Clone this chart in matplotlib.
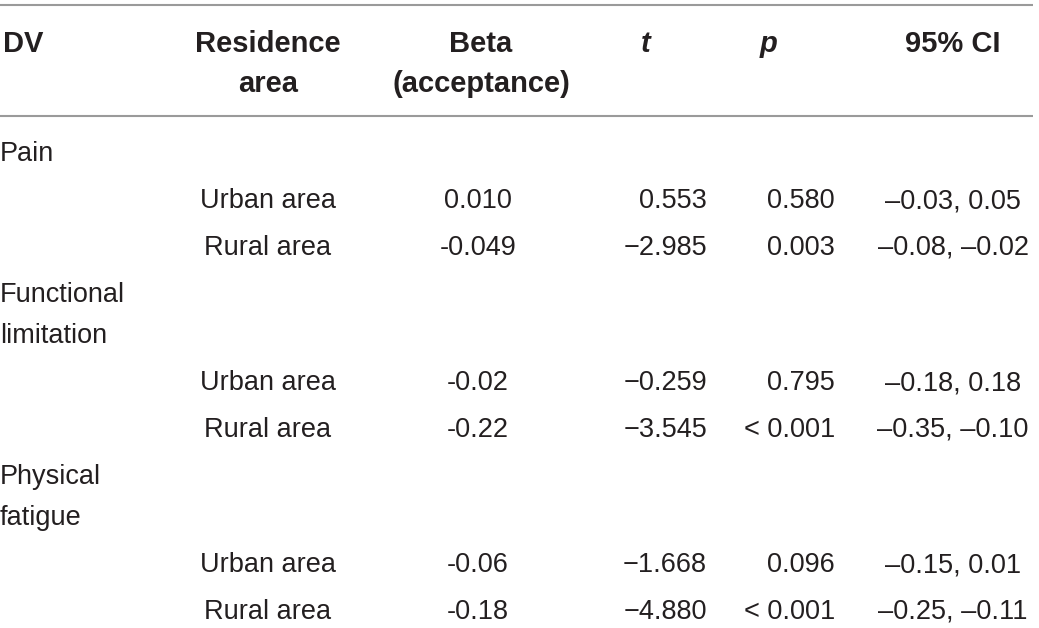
import matplotlib
matplotlib.use("Agg")
import matplotlib.pyplot as plt

# таблица: регрессия по месту проживания
dv_labels = [["Pain"], ["Functional", "limitation"], ["Physical", "fatigue"]]
areas = ["Urban area", "Rural area"]
beta = [["0.010", "-0.049"], ["-0.02", "-0.22"], ["-0.06", "-0.18"]]
t_vals = [["0.553", "\u22122.985"], ["\u22120.259", "\u22123.545"], ["\u22121.668", "\u22124.880"]]
p_vals = [["0.580", "0.003"], ["0.795", "< 0.001"], ["0.096", "< 0.001"]]
ci_vals = [["\u20130.03, 0.05", "\u20130.08, \u20130.02"],
           ["\u20130.18, 0.18", "\u20130.35, \u20130.10"],
           ["\u20130.15, 0.01", "\u20130.25, \u20130.11"]]

W, H = 1039, 628
fig = plt.figure(figsize=(W / 100, H / 100), dpi=100)
ax = fig.add_axes([0, 0, 1, 1])
ax.set_xlim(0, W)
ax.set_ylim(H, 0)
ax.axis("off")

plt.rcParams["font.family"] = ["Liberation Sans", "DejaVu Sans"]
fs = 19.5
fs_head = 21
col = "#231f20"
line_col = "#9a9a9a"

# колонки
x_dv = 0
x_area = 268
x_beta = 481
x_t = 707
x_p = 835
x_ci = 953

# линии
ax.plot([0, 1033], [5, 5], color=line_col, lw=1.5, solid_capstyle="butt")
ax.plot([0, 1033], [116, 116], color=line_col, lw=1.5, solid_capstyle="butt")

# заголовок
hb = 52
hb2 = 92
hk = dict(fontsize=fs_head, fontweight="bold", color=col, va="baseline")
ax.text(x_dv + 3, hb, "DV", ha="left", **hk)
ax.text(x_area, hb, "Residence", ha="center", **hk)
ax.text(x_area, hb2, "area", ha="center", **hk)
ax.text(x_beta, hb, "Beta", ha="center", **hk)
ax.text(x_beta, hb2, "(acceptance)", ha="center", **hk)
ax.text(646, hb, "t", ha="center", style="italic", **hk)
ax.text(769, hb, "p", ha="center", style="italic", **hk)
ax.text(x_ci, hb, "95% CI", ha="center", **hk)

# строки
tk = dict(fontsize=fs, color=col, va="baseline")
row_h = 47
line_h = 41
y = 152
for g, lab in enumerate(dv_labels):
    for k, s in enumerate(lab):
        ax.text(x_dv, y + 9 + k * line_h, s, ha="left", **tk)
    y += line_h * (len(lab) - 1) + row_h
    for i, a in enumerate(areas):
        b = y + 9
        ax.text(x_area, b, a, ha="center", **tk)
        ax.text(x_beta - 3, b, beta[g][i], ha="center", **tk)
        ax.text(x_t, b, t_vals[g][i], ha="right", **tk)
        ax.text(x_p, b, p_vals[g][i], ha="right", **tk)
        ax.text(x_ci, b, ci_vals[g][i], ha="center", **tk)
        y += row_h

fig.savefig("out.png", dpi=100, facecolor="white")
